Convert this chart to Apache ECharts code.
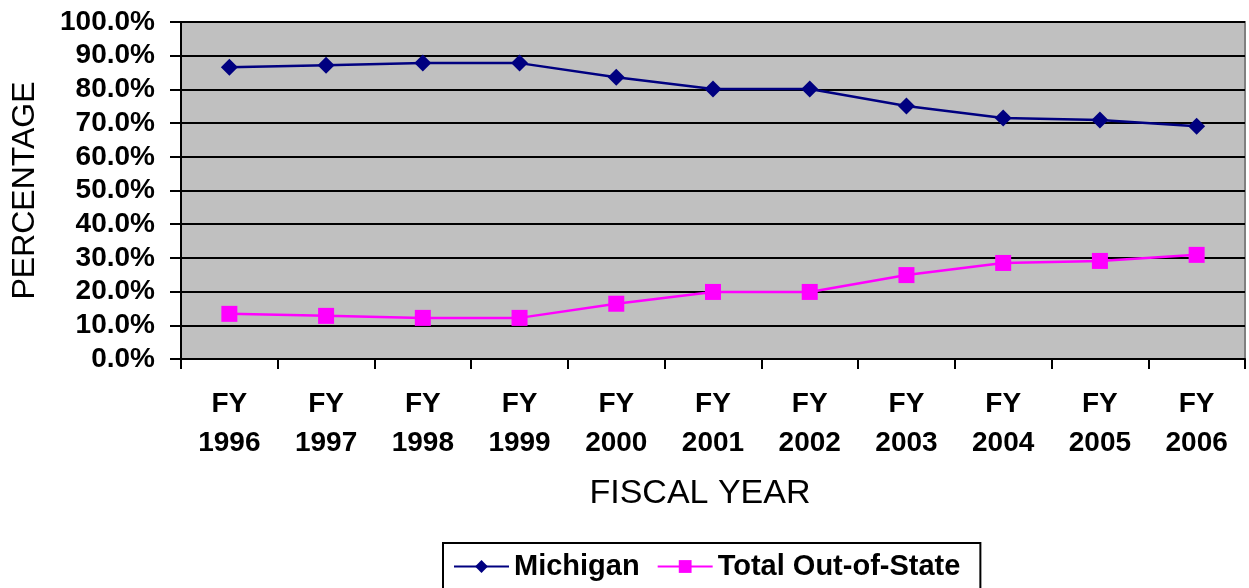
<!DOCTYPE html>
<html><head><meta charset="utf-8">
<script src="https://cdn.jsdelivr.net/npm/echarts@6/dist/echarts.min.js"></script>
<style>html,body{margin:0;padding:0;background:#fff}#c{width:1249px;height:588px}</style>
</head><body><div id="c"></div>
<script>
const categories = ['FY\n1996','FY\n1997','FY\n1998','FY\n1999','FY\n2000','FY\n2001','FY\n2002','FY\n2003','FY\n2004','FY\n2005','FY\n2006'];
const michigan = [86.6, 87.2, 87.8, 87.8, 83.6, 80.1, 80.1, 75.1, 71.5, 70.9, 69.1];
const outOfState = [13.4, 12.8, 12.2, 12.2, 16.4, 19.9, 19.9, 24.9, 28.5, 29.1, 30.9];
const FONT = '"Liberation Sans", Arial, sans-serif';
const chart = echarts.init(document.getElementById('c'));
chart.setOption({
  animation: false,
  grid: {left: 181, right: 4, top: 22, bottom: 229, show: true, backgroundColor: '#c0c0c0', borderColor: '#808080', borderWidth: 2, outerBoundsMode: 'none', containLabel: false},
  xAxis: {
    type: 'category', data: categories, boundaryGap: true,
    axisLine: {lineStyle: {color: '#000', width: 2}},
    axisTick: {show: true, length: 10, lineStyle: {color: '#000', width: 2}},
    axisLabel: {color: '#000', fontFamily: FONT, fontSize: 28, fontWeight: 'bold', lineHeight: 39, margin: 26, interval: 0},
    name: 'FISCAL YEAR', nameLocation: 'middle', nameGap: 118,
    nameTextStyle: {color: '#000', fontFamily: FONT, fontSize: 34, padding: [0, 26, 0, 0]}
  },
  yAxis: {
    type: 'value', min: 0, max: 100, interval: 10,
    axisLine: {show: true, lineStyle: {color: '#000', width: 2}},
    axisTick: {show: true, length: 11, lineStyle: {color: '#000', width: 2}},
    splitLine: {show: true, lineStyle: {color: '#000', width: 2}},
    axisLabel: {color: '#000', fontFamily: FONT, fontSize: 28, fontWeight: 'bold', margin: 26, formatter: v => v.toFixed(1) + '%'},
    name: 'PERCENTAGE', nameLocation: 'middle', nameGap: 140, nameRotate: 90,
    nameTextStyle: {color: '#000', fontFamily: FONT, fontSize: 32}
  },
  legend: {
    left: 443, top: 543, itemWidth: 55, itemHeight: 16, itemGap: 17,
    padding: [9, 20, 20, 10], borderColor: '#000', borderWidth: 2, backgroundColor: '#fff',
    textStyle: {color: '#000', fontFamily: FONT, fontSize: 29, fontWeight: 'bold'},
    data: ['Michigan', 'Total Out-of-State']
  },
  series: [
    {name: 'Michigan', type: 'line', data: michigan, symbol: 'diamond', symbolSize: 17,
     lineStyle: {color: '#000080', width: 2.5}, itemStyle: {color: '#000080'}},
    {name: 'Total Out-of-State', type: 'line', data: outOfState, symbol: 'rect', symbolSize: 16,
     lineStyle: {color: '#ff00ff', width: 2.5}, itemStyle: {color: '#ff00ff'}}
  ]
});
</script></body></html>
